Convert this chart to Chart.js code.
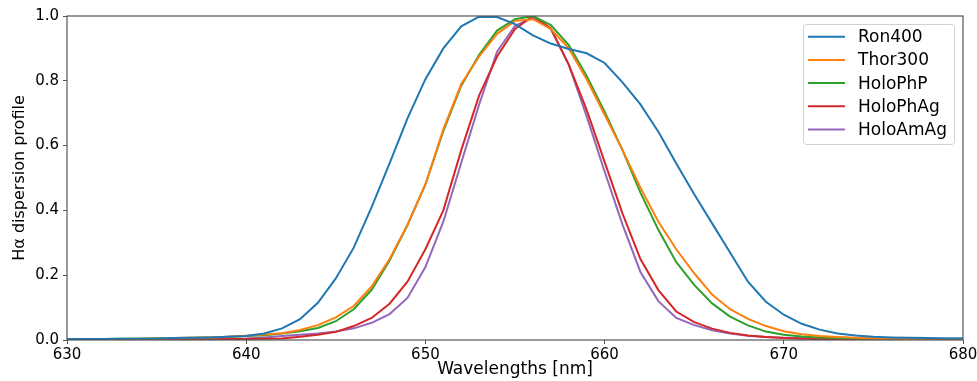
<!DOCTYPE html>
<html>
<head>
<meta charset="utf-8">
<script src="https://cdn.jsdelivr.net/npm/chart.js@4/dist/chart.umd.min.js"></script>
<style>
  html, body { margin: 0; padding: 0; background: #fff; }
</style>
</head>
<body>
<canvas id="chart" width="977" height="381"></canvas>
<script>
// wavelengths in nm (x axis)
const wavelengths = [630, 631, 632, 633, 634, 635, 636, 637, 638, 639,
  640, 641, 642, 643, 644, 645, 646, 647, 648, 649,
  650, 651, 652, 653, 654, 655, 656, 657, 658, 659,
  660, 661, 662, 663, 664, 665, 666, 667, 668, 669,
  670, 671, 672, 673, 674, 675, 676, 677, 678, 679, 680];

const ron400 = [0.003, 0.003, 0.003, 0.004, 0.004, 0.005, 0.006, 0.007, 0.008, 0.010,
  0.012, 0.020, 0.036, 0.064, 0.115, 0.190, 0.285, 0.410, 0.545, 0.684,
  0.805, 0.900, 0.968, 0.998, 0.997, 0.975, 0.940, 0.915, 0.898, 0.885,
  0.855, 0.795, 0.727, 0.643, 0.545, 0.450, 0.360, 0.270, 0.180, 0.118,
  0.078, 0.050, 0.032, 0.020, 0.014, 0.010, 0.008, 0.007, 0.006, 0.005, 0.005];

const thor300 = [0.002, 0.002, 0.002, 0.003, 0.004, 0.005, 0.006, 0.007, 0.008, 0.010,
  0.013, 0.017, 0.021, 0.031, 0.046, 0.070, 0.105, 0.165, 0.250, 0.355,
  0.480, 0.650, 0.790, 0.875, 0.945, 0.985, 0.990, 0.960, 0.900, 0.805,
  0.695, 0.586, 0.470, 0.365, 0.280, 0.206, 0.140, 0.095, 0.065, 0.043,
  0.027, 0.018, 0.012, 0.009, 0.007, 0.005, 0.004, 0.003, 0.003, 0.002, 0.002];

const holoPhP = [0.003, 0.003, 0.003, 0.004, 0.004, 0.005, 0.006, 0.007, 0.008, 0.010,
  0.012, 0.015, 0.020, 0.027, 0.037, 0.058, 0.095, 0.155, 0.245, 0.355,
  0.480, 0.645, 0.785, 0.880, 0.955, 0.990, 1.000, 0.972, 0.910, 0.815,
  0.705, 0.586, 0.455, 0.340, 0.240, 0.170, 0.113, 0.072, 0.045, 0.026,
  0.016, 0.011, 0.008, 0.006, 0.005, 0.005, 0.005, 0.004, 0.004, 0.004, 0.004];

const holoPhAg = [0.003, 0.003, 0.002, 0.002, 0.002, 0.002, 0.002, 0.002, 0.002, 0.003,
  0.003, 0.004, 0.005, 0.010, 0.016, 0.025, 0.043, 0.068, 0.112, 0.180,
  0.280, 0.400, 0.586, 0.755, 0.875, 0.960, 1.000, 0.962, 0.850, 0.710,
  0.550, 0.390, 0.250, 0.154, 0.088, 0.055, 0.035, 0.022, 0.014, 0.009,
  0.006, 0.004, 0.003, 0.002, 0.002, 0.002, 0.002, 0.002, 0.002, 0.002, 0.002];

const holoAmAg = [0.001, 0.001, 0.001, 0.001, 0.002, 0.002, 0.002, 0.003, 0.003, 0.004,
  0.005, 0.008, 0.012, 0.016, 0.020, 0.026, 0.036, 0.053, 0.080, 0.130,
  0.225, 0.365, 0.547, 0.727, 0.890, 0.970, 0.995, 0.960, 0.850, 0.690,
  0.520, 0.356, 0.210, 0.120, 0.068, 0.046, 0.030, 0.020, 0.013, 0.009,
  0.007, 0.006, 0.005, 0.005, 0.004, 0.004, 0.004, 0.004, 0.004, 0.004, 0.004];

const seriesNames = ['Ron400', 'Thor300', 'HoloPhP', 'HoloPhAg', 'HoloAmAg'];
const seriesValues = [ron400, thor300, holoPhP, holoPhAg, holoAmAg];
const seriesColors = ['#1f77b4', '#ff7f0e', '#2ca02c', '#d62728', '#9467bd'];

const xTicks = [630, 640, 650, 660, 670, 680];
const yTicks = [0.0, 0.2, 0.4, 0.6, 0.8, 1.0];

const FONT = 'DejaVu Sans';
const SPINE = '#555';

// frame around the plot + legend box in the upper right
const framePlugin = {
  id: 'frame',
  afterDraw(chart) {
    const { ctx, chartArea: a } = chart;
    ctx.save();
    ctx.strokeStyle = SPINE;
    ctx.lineWidth = 1.2;
    ctx.strokeRect(a.left, a.top, a.right - a.left, a.bottom - a.top);

    // legend
    const boxW = 151, boxH = 120;
    const bx = a.right - 9 - boxW, by = a.top + 8;
    ctx.fillStyle = 'rgba(255,255,255,0.8)';
    ctx.strokeStyle = '#d0d0d0';
    ctx.lineWidth = 1;
    ctx.beginPath();
    ctx.roundRect(bx + 0.5, by + 0.5, boxW, boxH, 3);
    ctx.fill();
    ctx.stroke();
    ctx.font = '17px "' + FONT + '"';
    ctx.textBaseline = 'middle';
    ctx.textAlign = 'left';
    chart.data.datasets.forEach((ds, i) => {
      const y = by + 12.7 + i * 23.2;
      ctx.strokeStyle = ds.borderColor;
      ctx.lineWidth = 2;
      ctx.beginPath();
      ctx.moveTo(bx + 5, y);
      ctx.lineTo(bx + 42, y);
      ctx.stroke();
      ctx.fillStyle = '#000';
      ctx.fillText(ds.label, bx + 55, y + 1);
    });
    ctx.restore();
  }
};

const datasets = seriesNames.map((name, i) => ({
  label: name,
  data: wavelengths.map((w, j) => ({ x: w, y: seriesValues[i][j] })),
  borderColor: seriesColors[i],
  backgroundColor: seriesColors[i],
  borderWidth: 2,
  pointRadius: 0,
  tension: 0,
  fill: false
}));

new Chart(document.getElementById('chart'), {
  type: 'line',
  data: { datasets: datasets },
  options: {
    responsive: false,
    animation: false,
    devicePixelRatio: 1,
    layout: { padding: { left: 0, right: 14, top: 16, bottom: 0 } },
    plugins: {
      legend: { display: false },
      tooltip: { enabled: false }
    },
    scales: {
      x: {
        type: 'linear',
        min: 630,
        max: 680,
        afterBuildTicks: (scale) => { scale.ticks = xTicks.map(v => ({ value: v })); },
        afterFit: (scale) => { scale.height = 41; scale.paddingRight = 0; scale.paddingLeft = 0; },
        grid: { display: true, drawOnChartArea: false, drawTicks: true, tickLength: 4, color: SPINE },
        border: { display: false },
        ticks: { color: '#000', font: { family: FONT, size: 15 }, padding: 2, maxRotation: 0 },
        title: { display: true, text: 'Wavelengths [nm]', color: '#000', font: { family: FONT, size: 17 }, padding: { top: 0, bottom: 1 } }
      },
      y: {
        min: 0,
        max: 1,
        afterBuildTicks: (scale) => { scale.ticks = yTicks.map(v => ({ value: v })); },
        afterFit: (scale) => { scale.width = 67; },
        grid: { display: true, drawOnChartArea: false, drawTicks: true, tickLength: 4, color: SPINE },
        border: { display: false },
        ticks: { color: '#000', font: { family: FONT, size: 15 }, padding: 4, callback: (v) => v.toFixed(1) },
        title: { display: true, text: 'Hα dispersion profile', color: '#000', font: { family: FONT, size: 16 }, padding: { top: 10, bottom: 0 } }
      }
    }
  },
  plugins: [framePlugin]
});
</script>
</body>
</html>
